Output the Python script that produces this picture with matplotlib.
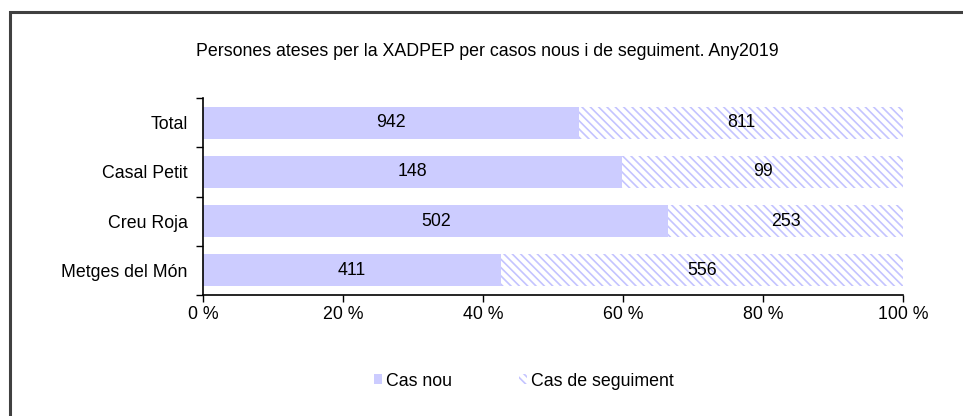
import matplotlib.pyplot as plt
import matplotlib.patches as mpatches
import numpy as np

plt.rcParams['font.family'] = ['Liberation Sans', 'DejaVu Sans']
plt.rcParams['hatch.linewidth'] = 1.2
plt.rcParams['hatch.color'] = '#c4c4ff'

# dades
categories = ['Total', 'Casal Petit', 'Creu Roja', 'Metges del Món']
cas_nou = [942, 148, 502, 411]
cas_seguiment = [811, 99, 253, 556]
title = 'Persones ateses per la XADPEP per casos nous i de seguiment. Any2019'

nou = np.array(cas_nou, dtype=float)
seg = np.array(cas_seguiment, dtype=float)
tot = nou + seg
p_nou = nou / tot * 100
p_seg = seg / tot * 100

FS = 12.8
HATCH = '\\' * 4

fig = plt.figure(figsize=(9.63, 4.16), dpi=100)
# marc exterior (només es veuen la vora superior i esquerra)
fig.patches.append(mpatches.Rectangle((9.5 / 963, -0.1), 1.2, 1.1 - 12.5 / 416,
                                      transform=fig.transFigure, fill=False,
                                      edgecolor='#404040', linewidth=2.2))

ax = fig.add_axes([203 / 963, 1 - 295 / 416, 700 / 963, 197 / 416])
y = np.arange(len(categories))
h = 32 / 49

ax.barh(y, p_nou, height=h, color='#ccccff', edgecolor='none')
ax.barh(y, p_seg, left=p_nou, height=h, color='white', edgecolor='#c4c4ff',
        linewidth=0, hatch=HATCH)

for i in range(len(categories)):
    ax.text(p_nou[i] / 2, y[i], str(cas_nou[i]), ha='center', va='center', fontsize=FS)
    ax.text(p_nou[i] + p_seg[i] / 2, y[i], str(cas_seguiment[i]), ha='center',
            va='center', fontsize=FS)

ax.set_xlim(0, 100)
ax.set_ylim(len(categories) - 0.5, -0.5)
ax.set_yticks(y)
ax.set_yticklabels(categories, fontsize=FS)
ax.set_yticks(np.arange(-0.5, len(categories), 1), minor=True)
ax.tick_params(axis='y', which='major', length=0, pad=11)
ax.tick_params(axis='y', which='minor', length=5, width=1)
ax.set_xticks(np.arange(0, 101, 20))
ax.set_xticklabels([f'{v} %' for v in range(0, 101, 20)], fontsize=FS)
ax.tick_params(axis='x', length=5, width=1, pad=3)
for s in ['top', 'right']:
    ax.spines[s].set_visible(False)
ax.spines['left'].set_linewidth(1.2)
ax.spines['bottom'].set_linewidth(1.2)

fig.text(487 / 963, 1 - 51 / 416, title, ha='center', va='center', fontsize=FS)

handles = [mpatches.Patch(facecolor='#ccccff', edgecolor='none', label='Cas nou'),
           mpatches.Patch(facecolor='white', edgecolor='#c4c4ff', linewidth=0,
                          hatch=HATCH, label='Cas de seguiment')]
fig.legend(handles=handles, loc='center', bbox_to_anchor=(524 / 963, 1 - 381 / 416),
           ncol=2, frameon=False, fontsize=FS, handlelength=0.45, handleheight=0.45,
           handletextpad=0.2, columnspacing=3.8)

fig.savefig('out.png', dpi=100)
